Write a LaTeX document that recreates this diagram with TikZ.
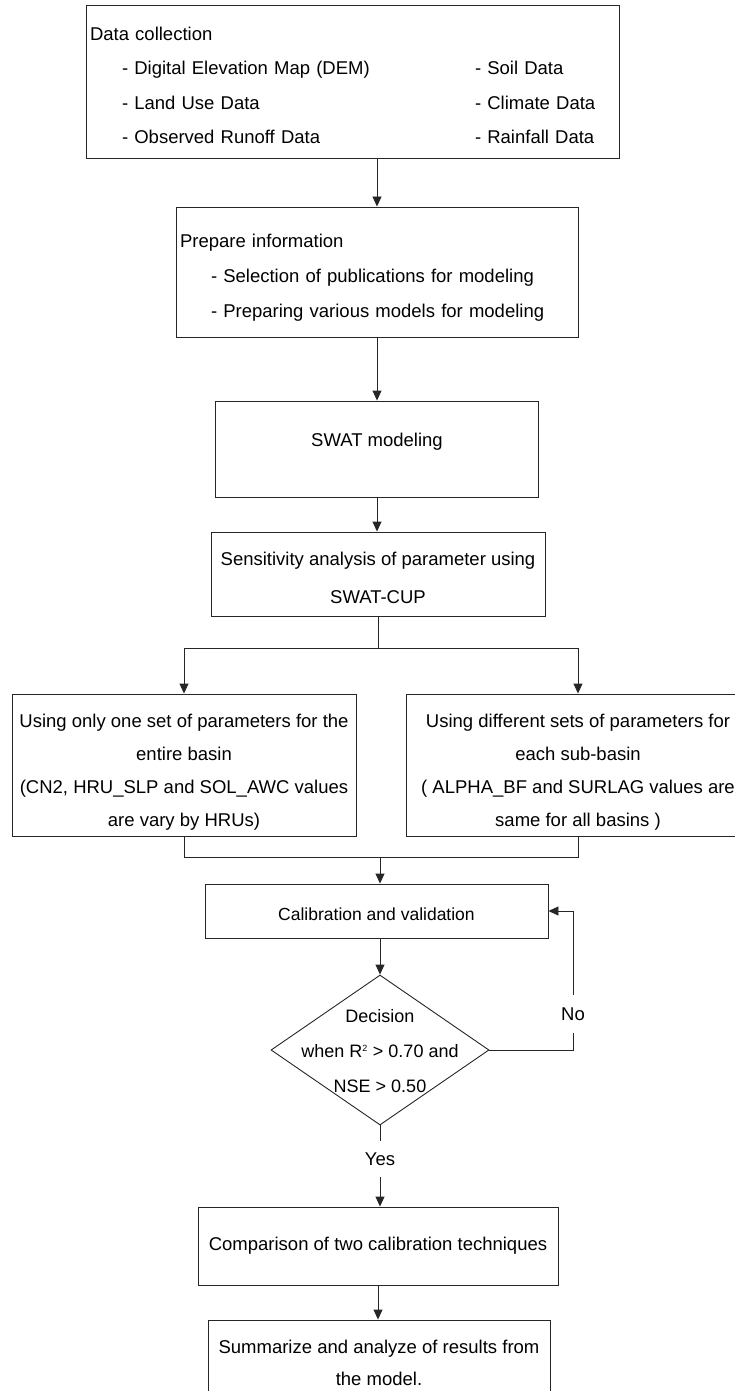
\documentclass[tikz,border=0pt]{standalone}
\usepackage{fontspec}
\setmainfont{Liberation Sans}
\usepackage{tikz}
\usetikzlibrary{positioning}
\usetikzlibrary{arrows.meta}
\usetikzlibrary{shapes.geometric}
\tikzstyle{block} = [rectangle, draw=black!85, line width=0.9pt,
    inner xsep=4pt, inner ysep=0pt, font=\fontsize{18.5}{35}\selectfont]
\tikzstyle{decide} = [diamond, draw=black!85, line width=0.9pt, inner sep=0pt,
    font=\fontsize{18}{35}\selectfont]
\tikzstyle{answer} = [inner sep=0pt, font=\fontsize{18.5}{22}\selectfont]
\tikzstyle{line} = [draw=black!85, line width=0.9pt, -{Triangle[length=10pt,width=9pt]}]
\tikzstyle{wire} = [draw=black!85, line width=0.9pt]
\newcommand{\datarow}[2]{\hspace*{32pt}\makebox[353pt][l]{#1}#2}

\begin{document}
\begin{tikzpicture}[x=1pt, y=-1pt]
  \useasboundingbox (0,0) rectangle (735,1391);

  \node [block, text width=525pt, align=left, minimum height=153pt,
    font=\fontsize{18.5}{34.3}\selectfont] (data) at (352.5,81.5) {\rule{0pt}{21.4pt}Data collection\\
    \datarow{- Digital Elevation Map (DEM)}{- Soil Data}\\
    \datarow{- Land Use Data}{- Climate Data}\\
    \datarow{- Observed Runoff Data}{- Rainfall Data}};
  \node [block, text width=394pt, align=left, minimum height=130pt] (prep) at (377,272) {\rule{0pt}{24.5pt}Prepare information\\
    \hspace*{31pt}- Selection of publications for modeling\\
    \hspace*{31pt}- Preparing various models for modeling};
  \node [block, minimum width=323pt, minimum height=96pt, text depth=18pt] (swat) at (377,449) {SWAT modeling};
  \node [block, minimum width=334pt, minimum height=84pt, align=center,
    font=\fontsize{18.5}{37.5}\selectfont] (sens) at (378,574) {\rule{0pt}{21pt}Sensitivity analysis of parameter using\\ SWAT-CUP};

  \node [block, minimum width=344pt, minimum height=142pt, align=center,
    font=\fontsize{18.5}{33}\selectfont] (left) at (184,765) {\rule{0pt}{27pt}Using only one set of parameters for the\\
    entire basin\\ (CN2, HRU\_SLP and SOL\_AWC values\\ are vary by HRUs)};
  \node [block, minimum width=344pt, minimum height=142pt, align=center,
    font=\fontsize{18.5}{33}\selectfont] (right) at (578,765) {\rule{0pt}{27pt}Using different sets of parameters for\\
    each sub-basin\\ ( ALPHA\_BF and SURLAG values are\\ same for all basins )};

  \node [block, minimum width=343pt, minimum height=54pt, text height=20pt,
    font=\fontsize{17.5}{22}\selectfont] (calib) at (376.5,911) {Calibration and validation};
  \node [decide, minimum width=218pt, minimum height=150pt] (dec) at (380,1050)
    {\makebox[0pt]{\smash{\raisebox{-5pt}{\begin{tabular}{@{}c@{}}Decision\\
    when R\textsuperscript{\fontsize{9}{9}\selectfont 2} > 0.70 and\\ NSE > 0.50\end{tabular}}}}};
  \node [answer, minimum height=38pt] (no) at (573,1014) {No};
  \node [answer, minimum height=36pt] (yes) at (380,1159) {Yes};

  \node [block, minimum width=360pt, minimum height=78pt] (comp) at (378,1246) {Comparison of two calibration techniques};
  \node [block, minimum width=342pt, minimum height=86pt, align=center,
    font=\fontsize{18.5}{32}\selectfont] (summ) at (379,1363) {Summarize and analyze of results from\\ the model.};

  \path [line] (data.south -| prep.north) -- (prep.north);
  \path [line] (prep.south) -- (swat.north);
  \path [line] (swat.south) -- (swat.south |- sens.north);

  \coordinate (split) at (378,648);
  \draw [wire] (sens.south) -- (split);
  \path [line] (split) -| (left.north);
  \path [line] (split) -| (right.north);

  \coordinate (merge) at (380,857);
  \draw [wire] (left.south) |- (merge);
  \draw [wire] (right.south) |- (merge);
  \path [line] (merge) -- (merge |- calib.north);

  \path [line] (calib.south -| dec.north) -- (dec.north);
  \draw [wire] (dec.east) -| (no.south);
  \path [line] (no.north) |- (calib.east);

  \draw [wire] (dec.south) -- (yes.north);
  \path [line] (yes.south) -- (yes.south |- comp.north);
  \path [line] (comp.south) -- (comp.south |- summ.north);

\end{tikzpicture}
\end{document}
